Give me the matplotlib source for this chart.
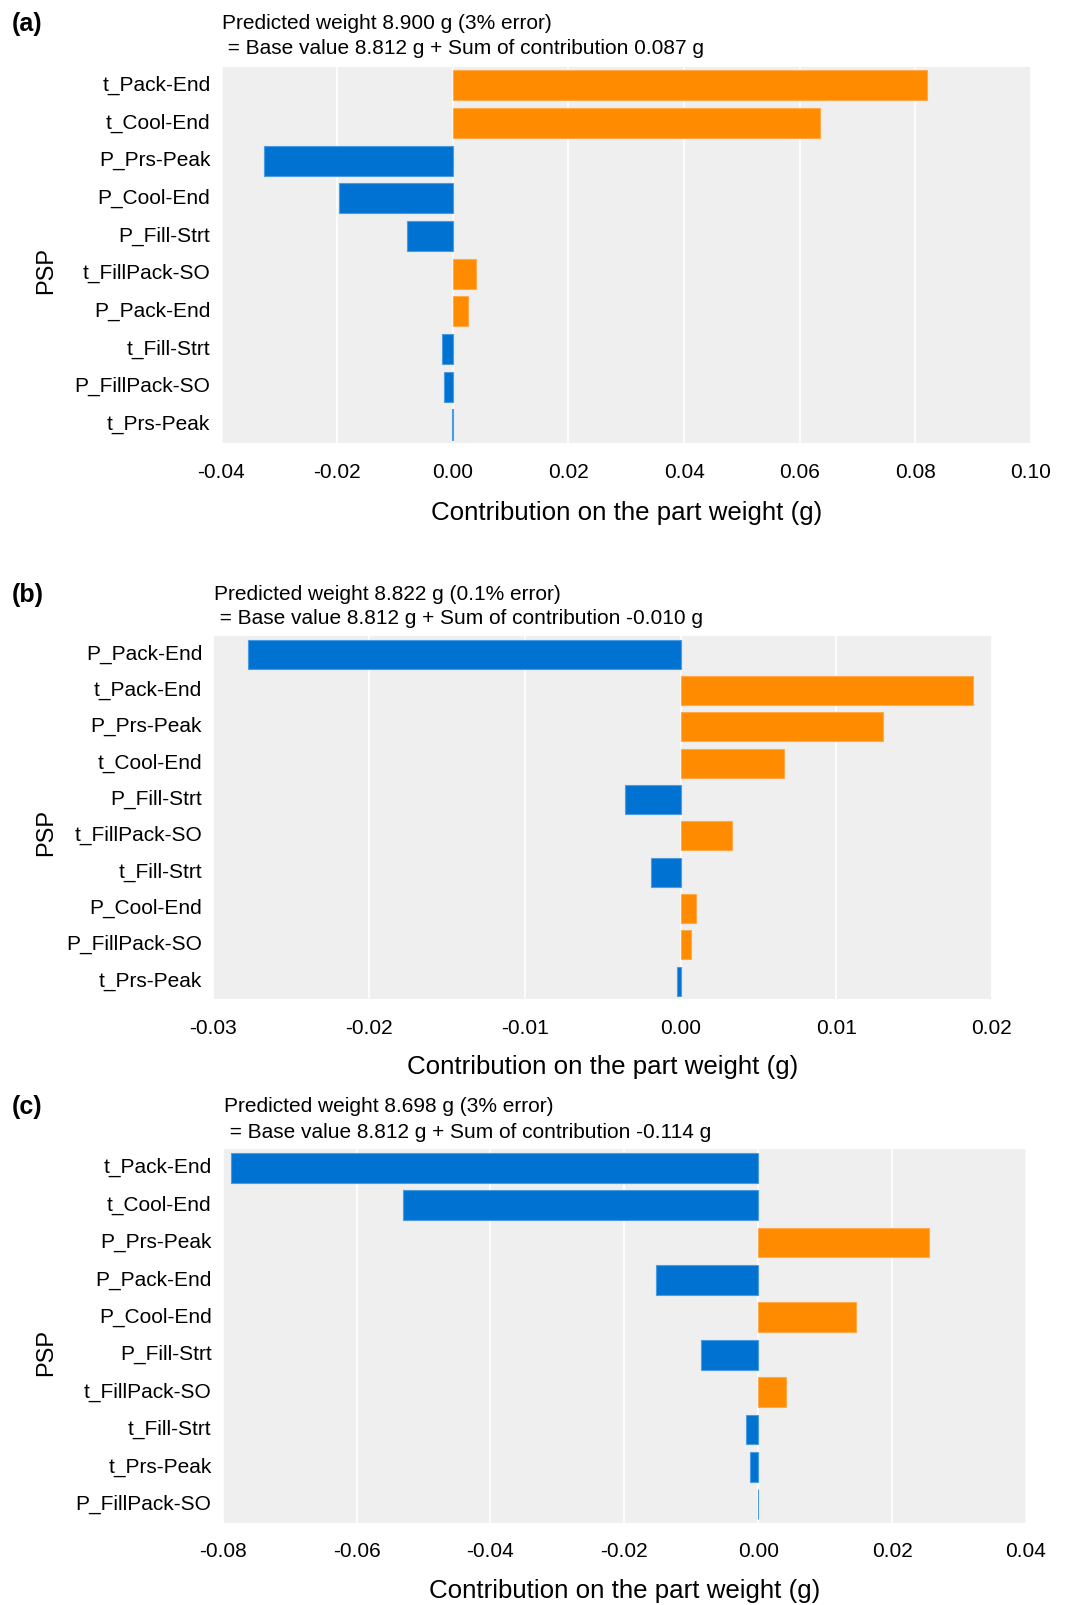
import numpy as np
import matplotlib.pyplot as plt

plt.rcParams['font.family'] = ['Liberation Sans', 'DejaVu Sans']

# (a)
feat_a = ["t_Pack-End", "t_Cool-End", "P_Prs-Peak", "P_Cool-End", "P_Fill-Strt",
          "t_FillPack-SO", "P_Pack-End", "t_Fill-Strt", "P_FillPack-SO", "t_Prs-Peak"]
val_a = [0.0821, 0.0635, -0.0326, -0.0196, -0.0080, 0.0041, 0.0027, -0.0018, -0.0016, -0.0002]
ticks_a = [-0.04, -0.02, 0.00, 0.02, 0.04, 0.06, 0.08, 0.10]
title_a = ["Predicted weight 8.900 g (3% error)", " = Base value 8.812 g + Sum of contribution 0.087 g"]

# (b)
feat_b = ["P_Pack-End", "t_Pack-End", "P_Prs-Peak", "t_Cool-End", "P_Fill-Strt",
          "t_FillPack-SO", "t_Fill-Strt", "P_Cool-End", "P_FillPack-SO", "t_Prs-Peak"]
val_b = [-0.0278, 0.0188, 0.0130, 0.00665, -0.00359, 0.00328, -0.0019, 0.0010, 0.00066, -0.0002]
ticks_b = [-0.03, -0.02, -0.01, 0.00, 0.01, 0.02]
title_b = ["Predicted weight 8.822 g (0.1% error)", " = Base value 8.812 g + Sum of contribution -0.010 g"]

# (c)
feat_c = ["t_Pack-End", "t_Cool-End", "P_Prs-Peak", "P_Pack-End", "P_Cool-End",
          "P_Fill-Strt", "t_FillPack-SO", "t_Fill-Strt", "t_Prs-Peak", "P_FillPack-SO"]
val_c = [-0.0788, -0.0530, 0.0255, -0.0153, 0.0146, -0.00856, 0.0041, -0.0019, -0.0012, -0.0001]
ticks_c = [-0.08, -0.06, -0.04, -0.02, 0.00, 0.02, 0.04]
title_c = ["Predicted weight 8.698 g (3% error)", " = Base value 8.812 g + Sum of contribution -0.114 g"]

W, H = 1070, 1605
fig = plt.figure(figsize=(W / 100, H / 100), dpi=100)

ORANGE = '#ff8c00'
BLUE = '#0073d2'


def fx(px):
    return px / W


def fy(py):
    return 1 - py / H


def panel(letter, feats, vals, ticks, title, box, ty, lab_y, psp_y):
    l, r, t, b = box
    ax = fig.add_axes([fx(l), fy(b), fx(r) - fx(l), fy(t) - fy(b)])
    ax.set_facecolor('#efefef')
    y = np.arange(len(feats))
    cols = [ORANGE if v > 0 else BLUE for v in vals]
    edges = ['#ffa94a' if v > 0 else '#4a9be2' for v in vals]
    ax.barh(y, vals, height=0.8, color=cols, edgecolor=edges, linewidth=0.8, zorder=3)
    ax.set_yticks(y)
    ax.set_yticklabels(feats, va='center')
    ax.set_ylim(len(feats) - 0.5, -0.5)
    ax.set_xlim(ticks[0], ticks[-1])
    ax.set_xticks(ticks)
    ax.set_xticklabels(['%.2f' % v for v in ticks])
    ax.grid(axis='x', color='white', linewidth=1.2, zorder=0)
    ax.set_axisbelow(True)
    for s in ax.spines.values():
        s.set_visible(False)
    ax.tick_params(axis='x', length=0, pad=14, labelsize=15)
    ax.tick_params(axis='y', length=0, pad=8, labelsize=15)
    cx = (l + r) / 2
    fig.text(fx(cx), fy(lab_y), 'Contribution on the part weight (g)', fontsize=18.6,
             ha='center', va='center')
    fig.text(fx(46), fy(psp_y), 'PSP', fontsize=17, rotation=90, ha='center', va='center')
    fig.text(fx(l + 1), fy(ty[0]), title[0], fontsize=15, ha='left', va='center')
    fig.text(fx(l + 1), fy(ty[1]), title[1], fontsize=15, ha='left', va='center')
    fig.text(fx(12), fy(ty[0]), letter, fontsize=18, fontweight='bold', ha='left', va='center')
    return ax


panel('(a)', feat_a, val_a, ticks_a, title_a, (221.5, 1031, 66.5, 443.3), (23.5, 49), 513, 271)
panel('(b)', feat_b, val_b, ticks_b, title_b, (213.3, 992, 636, 999.3), (595, 619), 1067, 832)
panel('(c)', feat_c, val_c, ticks_c, title_c, (222.7, 1026, 1149, 1523), (1107, 1132), 1591, 1352)

fig.savefig('out.png', dpi=100)
